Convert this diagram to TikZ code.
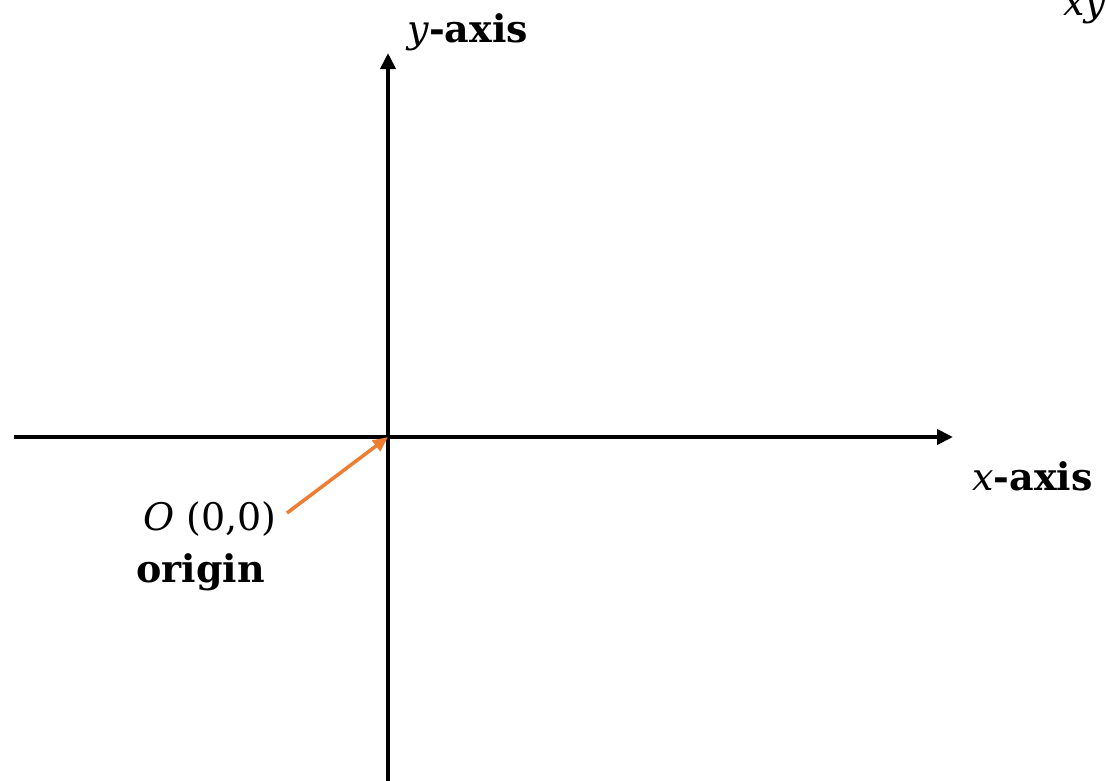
\documentclass[tikz,border=0pt]{standalone}
\usepackage{fontspec}
\setmainfont{DejaVu Serif}
\usetikzlibrary{arrows.meta}
\definecolor{orng}{HTML}{ED7D31}
\tikzset{
  axis/.style={line width=3.8pt, -{Triangle[length=16pt,width=15pt]}},
  lbl/.style={inner sep=0pt, anchor=base west, font=\fontsize{38}{44}\selectfont},
  ptr/.style={orng, line width=3.5pt, -{Triangle[length=15pt,width=13pt]}}
}
\begin{document}
\begin{tikzpicture}[x=1pt,y=-1pt]
\useasboundingbox (0,0) rectangle (1106,780);
\clip (0,0) rectangle (1106,780);
\coordinate (xl) at (14,437);
\coordinate (xr) at (953,437);
\coordinate (yb) at (388,781);
\coordinate (yt) at (388,53);
\coordinate (o) at (388,437);
\draw[axis] (xl) -- (xr);
\draw[axis] (yb) -- (yt);
\node[lbl] (ylab) at (407,42) {\textit{y}\textbf{-axis}};
\node[lbl] (xlab) at (972,490) {\textit{x}\textbf{-axis}};
\node[lbl] (xy) at (1063,15) {\textit{xy}};
\node[lbl] (olab) at (143,530) {\textit{O} (0,0)};
\node[lbl] (orig) at (136,582) {\textbf{origin}};
\coordinate (os) at (287,513);
\draw[ptr] (os) -- (o);
\end{tikzpicture}
\end{document}
